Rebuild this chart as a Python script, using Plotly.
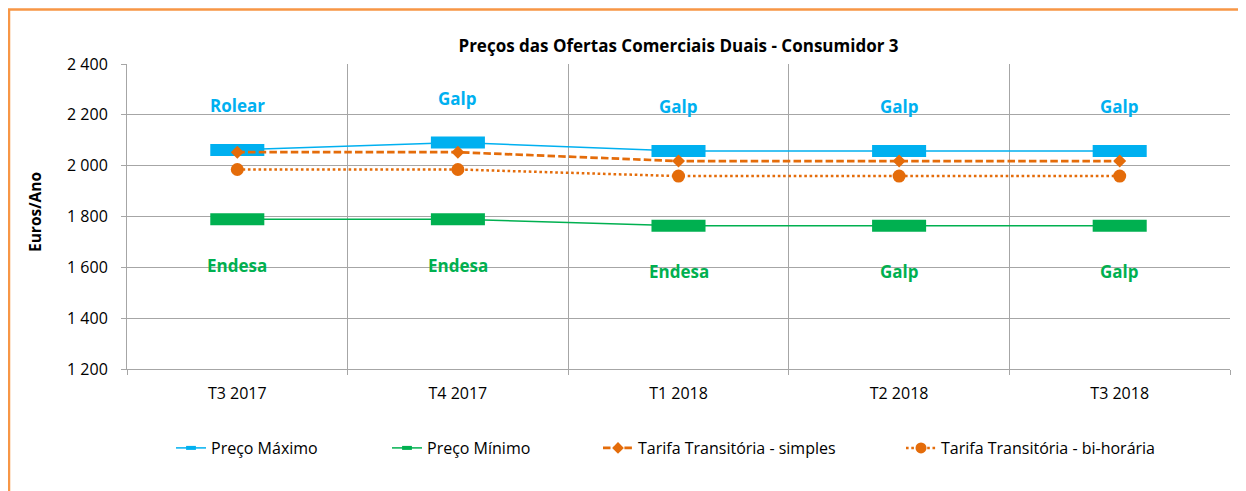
import plotly.graph_objects as go

categories = ["T3 2017", "T4 2017", "T1 2018", "T2 2018", "T3 2018"]
preco_max = [2062, 2091, 2058, 2058, 2058]
preco_min = [1789, 1789, 1764, 1764, 1764]
tarifa_simples = [2053, 2053, 2018, 2018, 2018]
tarifa_bihoraria = [1985, 1985, 1959, 1959, 1959]
label_max = ["Rolear", "Galp", "Galp", "Galp", "Galp"]
label_min = ["Endesa", "Endesa", "Endesa", "Galp", "Galp"]
series_names = ["Preço Máximo", "Preço Mínimo",
                "Tarifa Transitória - simples", "Tarifa Transitória - bi-horária"]

BLUE = "#00B0F0"
GREEN = "#00B050"
ORANGE = "#E46C0A"
BORDER = "#F79646"
GRID = "#A6A6A6"
FONT = "Open Sans"

# page body has an 8px margin; figure coordinates are screen - 8
W, H = 1246, 491
L, R, T, B = 119, 24, 56, 130
PW = W - L - R
PH = H - T - B

x = list(range(len(categories)))

fig = go.Figure()
styles = [
    dict(line=dict(color=BLUE, width=1.5),
         marker=dict(symbol="line-ew", size=38.6, color=BLUE, line=dict(color=BLUE, width=12)),
         lmarker=dict(symbol="line-ew", size=7, color=BLUE, line=dict(color=BLUE, width=4))),
    dict(line=dict(color=GREEN, width=1.5),
         marker=dict(symbol="line-ew", size=38.6, color=GREEN, line=dict(color=GREEN, width=12)),
         lmarker=dict(symbol="line-ew", size=7, color=GREEN, line=dict(color=GREEN, width=4))),
    dict(line=dict(color=ORANGE, width=2.7, dash="7.5px,3.2px"),
         marker=dict(symbol="diamond", size=10, color=ORANGE),
         lmarker=dict(symbol="diamond", size=9, color=ORANGE)),
    dict(line=dict(color=ORANGE, width=2.5, dash="2.6px,2.7px"),
         marker=dict(symbol="circle", size=13, color=ORANGE),
         lmarker=dict(symbol="circle", size=11, color=ORANGE)),
]
values = [preco_max, preco_min, tarifa_simples, tarifa_bihoraria]
legend_ids = ["legend", "legend2", "legend3", "legend4"]

for name, vals, st in zip(series_names, values, styles):
    fig.add_trace(go.Scatter(x=x, y=vals, name=name, mode="lines+markers",
                             line=st["line"], marker=st["marker"], showlegend=False))
for name, st, lid in zip(series_names, styles, legend_ids):
    fig.add_trace(go.Scatter(x=[None], y=[None], name=name, mode="lines+markers",
                             line=st["line"], marker=st["lmarker"], showlegend=True, legend=lid))

annotations = []
for i, (v, t) in enumerate(zip(preco_max, label_max)):
    annotations.append(dict(x=i, y=v, xref="x", yref="y", text=f"<b>{t}</b>", showarrow=False,
                            yshift=44, font=dict(family=FONT, size=17, color=BLUE)))
for i, (v, t) in enumerate(zip(preco_min, label_min)):
    annotations.append(dict(x=i, y=v, xref="x", yref="y", text=f"<b>{t}</b>", showarrow=False,
                            yshift=-46, font=dict(family=FONT, size=17, color=GREEN)))
annotations.append(dict(x=(27 - L) / PW, y=(H - B - (212 - 8)) / PH, xref="paper", yref="paper",
                        text="<b>Euros/Ano</b>", textangle=-90, showarrow=False,
                        xanchor="center", yanchor="middle",
                        font=dict(family=FONT, size=15.5, color="#000000")))

# legend positions (screen x of symbol start)
leg_screen_x = [176, 392, 603, 906]
leg_y = (H - B - (448 - 8)) / PH
legends = {}
for lid, sx in zip(legend_ids, leg_screen_x):
    legends[lid] = dict(orientation="h", x=(sx - 5 - 8 - L) / PW, xanchor="left",
                        y=leg_y, yanchor="middle", bgcolor="rgba(0,0,0,0)",
                        font=dict(family=FONT, size=16, color="#000000"))

fig.update_layout(
    width=W, height=H,
    margin=dict(l=L, r=R, t=T, b=B),
    paper_bgcolor="white", plot_bgcolor="white",
    separators=", ",
    font=dict(family=FONT, size=16, color="#000000"),
    title=dict(text="<b>Preços das Ofertas Comerciais Duais - Consumidor 3</b>",
               x=0.5, xref="paper", xanchor="center", y=1 - (46 - 8) / H, yref="container",
               yanchor="middle", font=dict(family=FONT, size=17, color="#000000")),
    annotations=annotations,
    showlegend=True,
    shapes=[dict(type="rect", xref="paper", yref="paper",
                 x0=(1 - L) / PW, x1=1.05, y0=-0.6, y1=1 + (T - 1.5) / PH,
                 line=dict(color=BORDER, width=2.5), fillcolor="rgba(0,0,0,0)", layer="below")],
    **legends,
)
fig.update_xaxes(
    range=[-0.5, 4.5], tickmode="array", tickvals=x, ticktext=categories,
    showgrid=False, zeroline=False, ticks="", showline=True, linecolor=GRID, linewidth=1,
    ticklabelstandoff=10,
    minor=dict(tickmode="array", tickvals=[-0.5, 0.5, 1.5, 2.5, 3.5, 4.5], showgrid=True,
               gridcolor=GRID, gridwidth=1, ticks="outside", ticklen=5, tickcolor=GRID),
    tickfont=dict(family=FONT, size=16, color="#000000"),
)
fig.update_yaxes(
    range=[1200, 2400], tickmode="linear", tick0=1200, dtick=200, tickformat=",d",
    showgrid=True, gridcolor=GRID, gridwidth=1, zeroline=False,
    showline=True, linecolor=GRID, linewidth=1, ticks="outside", ticklen=5, tickcolor=GRID,
    ticklabelstandoff=10,
    tickfont=dict(family=FONT, size=16, color="#000000"),
)

fig.write_html("out.html")
